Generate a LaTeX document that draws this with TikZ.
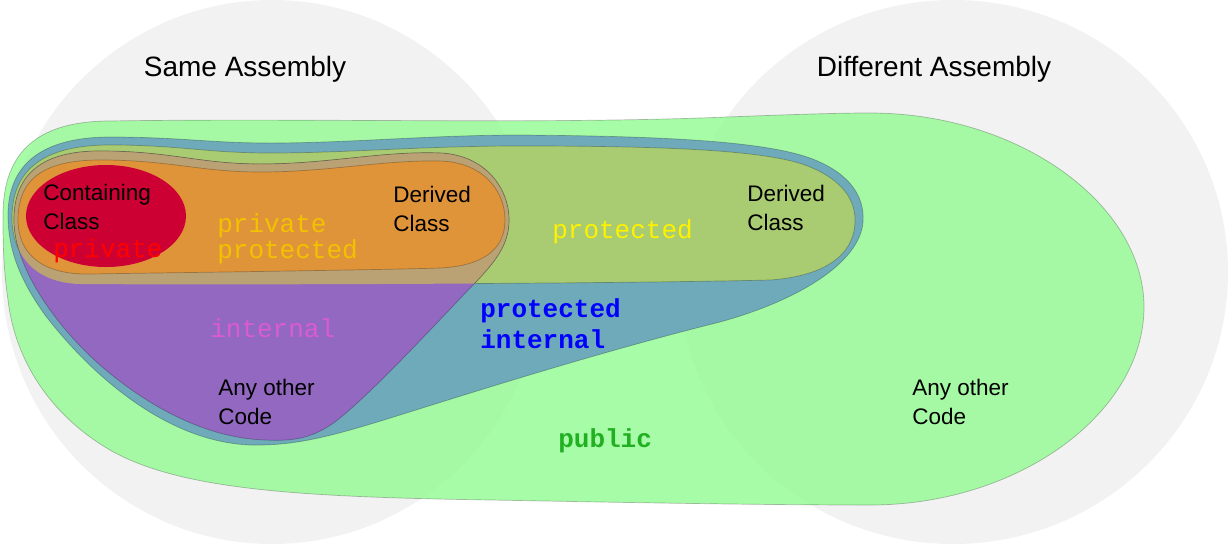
\documentclass[tikz,border=0pt]{standalone}
\usepackage{fontspec}
\setmainfont{Liberation Sans}
\setmonofont{Liberation Mono}
\usepackage{xcolor}
\definecolor{asmgray}{HTML}{F2F2F2}
\definecolor{pubgreen}{HTML}{98FB98}
\definecolor{protintblue}{HTML}{6EAAB9}
\definecolor{protyellow}{HTML}{A9CB72}
\definecolor{intpurple}{HTML}{9268C0}
\definecolor{inttan}{HTML}{BBA274}
\definecolor{pporange}{HTML}{DF943A}
\definecolor{privred}{HTML}{CC0033}
\definecolor{kwgold}{HTML}{F2C200}
\definecolor{kwmagenta}{HTML}{DA5BD4}
\definecolor{kwgreen}{HTML}{22B022}
\tikzset{
  zone/.style   ={draw=black,draw opacity=0.25,line width=0.5pt},
  asm/.style    ={fill=asmgray,draw=none},
  title/.style  ={font=\fontsize{19.9}{24}\selectfont,inner sep=0pt,anchor=base},
  lbl/.style    ={font=\fontsize{16}{20.6}\selectfont,align=left,inner sep=0pt,anchor=base west},
  kw/.style     ={font=\ttfamily\fontsize{18.5}{17.8}\selectfont,align=left,inner sep=0pt,anchor=base west},
  kwbold/.style ={font=\ttfamily\bfseries\fontsize{18.5}{22}\selectfont,align=left,inner sep=0pt,anchor=base west},
}
% region outlines, in picture pixels (y grows downward)
\newcommand{\pathpub}{(3,215) .. controls (3,150) and (40,121) .. (110,121)
  .. controls (300,118) and (520,124) .. (700,118)
  .. controls (780,115) and (830,113) .. (870,113)
  .. controls (1020,113) and (1144,205) .. (1144,307)
  .. controls (1144,412) and (1020,505) .. (870,505)
  .. controls (750,505) and (600,502) .. (491,500)
  .. controls (300,497) and (180,490) .. (110,450)
  .. controls (50,415) and (15,360) .. (8,300)
  .. controls (3,265) and (3,240) .. cycle}
\newcommand{\pathprotint}{(8,215) .. controls (8,162) and (45,137) .. (110,137)
  .. controls (180,137) and (210,143) .. (270,143)
  .. controls (350,143) and (430,135) .. (520,135)
  .. controls (650,136) and (760,140) .. (810,158)
  .. controls (848,172) and (865,195) .. (863,222)
  .. controls (860,262) and (800,300) .. (720,322)
  .. controls (600,352) and (480,390) .. (400,415)
  .. controls (330,437) and (295,446) .. (250,445)
  .. controls (170,442) and (95,380) .. (45,315)
  .. controls (20,280) and (8,250) .. cycle}
\newcommand{\pathprot}{(12,218) .. controls (12,165) and (50,145) .. (110,145)
  .. controls (180,145) and (205,153) .. (270,153)
  .. controls (350,153) and (420,146) .. (520,146)
  .. controls (650,146) and (760,149) .. (805,165)
  .. controls (840,178) and (855,198) .. (855,220)
  .. controls (855,255) and (825,276) .. (770,280)
  .. controls (600,284) and (200,285) .. (80,284)
  .. controls (35,283) and (12,255) .. cycle}
\newcommand{\pathint}{(14,220) .. controls (14,172) and (45,151) .. (100,151)
  .. controls (170,151) and (200,164) .. (260,164)
  .. controls (330,164) and (380,151) .. (440,153)
  .. controls (485,155) and (509,188) .. (509,220)
  .. controls (509,245) and (495,262) .. (473,285)
  .. controls (430,330) and (370,395) .. (335,422)
  .. controls (310,440) and (290,441) .. (265,440)
  .. controls (200,438) and (140,400) .. (100,365)
  .. controls (60,330) and (14,270) .. cycle}
\newcommand{\pathprivprot}{(18,220) .. controls (18,178) and (45,160) .. (100,160)
  .. controls (170,160) and (200,172) .. (260,172)
  .. controls (330,172) and (380,160) .. (440,161)
  .. controls (482,162) and (505,190) .. (505,220)
  .. controls (505,250) and (482,266) .. (440,268)
  .. controls (380,270) and (150,273) .. (90,274)
  .. controls (40,275) and (18,252) .. cycle}

\begin{document}
\begin{tikzpicture}[x=0.025cm,y=-0.025cm]
\useasboundingbox (0,0) rectangle (1228,554);
% assemblies
\fill[asm] (272,272) ellipse [x radius=270,y radius=272];
\fill[asm] (953,272) ellipse [x radius=275,y radius=272];
\node[title] (sameasm) at (245,76) {Same Assembly};
\node[title] (diffasm) at (934,76) {Different Assembly};

%================= nested access regions
\filldraw[zone,fill=pubgreen,fill opacity=0.85] \pathpub;
\filldraw[zone,fill=protintblue] \pathprotint;
\filldraw[zone,fill=protyellow] \pathprot;
\filldraw[zone,fill=intpurple] \pathint;
\begin{scope}
  \clip \pathprot;
  \filldraw[zone,fill=inttan] \pathint;
\end{scope}
\filldraw[zone,fill=pporange] \pathprivprot;
\fill[privred] (106,216) ellipse [x radius=80,y radius=51];

%================= code locations (anchored at the last line)
\node[lbl] (contcls) at (43,229) {Containing\\Class};
\node[lbl] (dercls) at (393,231) {Derived\\Class};
\node[lbl] (derclsout) at (747,230) {Derived\\Class};
\node[lbl] (anycode) at (218,424) {Any other\\Code};
\node[lbl] (anycodeout) at (912,424) {Any other\\Code};

%================= modifiers
\node[kw,text=red] (kwpriv) at (53,257) {private};
\node[kw,text=kwgold] (kwprivprot) at (217,258) {private\\protected};
\node[kw,text=yellow] (kwprot) at (552,238) {protected};
\node[kwbold,text=blue] (kwprotint) at (480,348) {protected\\internal};
\node[kw,text=kwmagenta] (kwint) at (210,337) {internal};
\node[kwbold,text=kwgreen] (kwpub) at (558,447) {public};
\end{tikzpicture}
\end{document}
